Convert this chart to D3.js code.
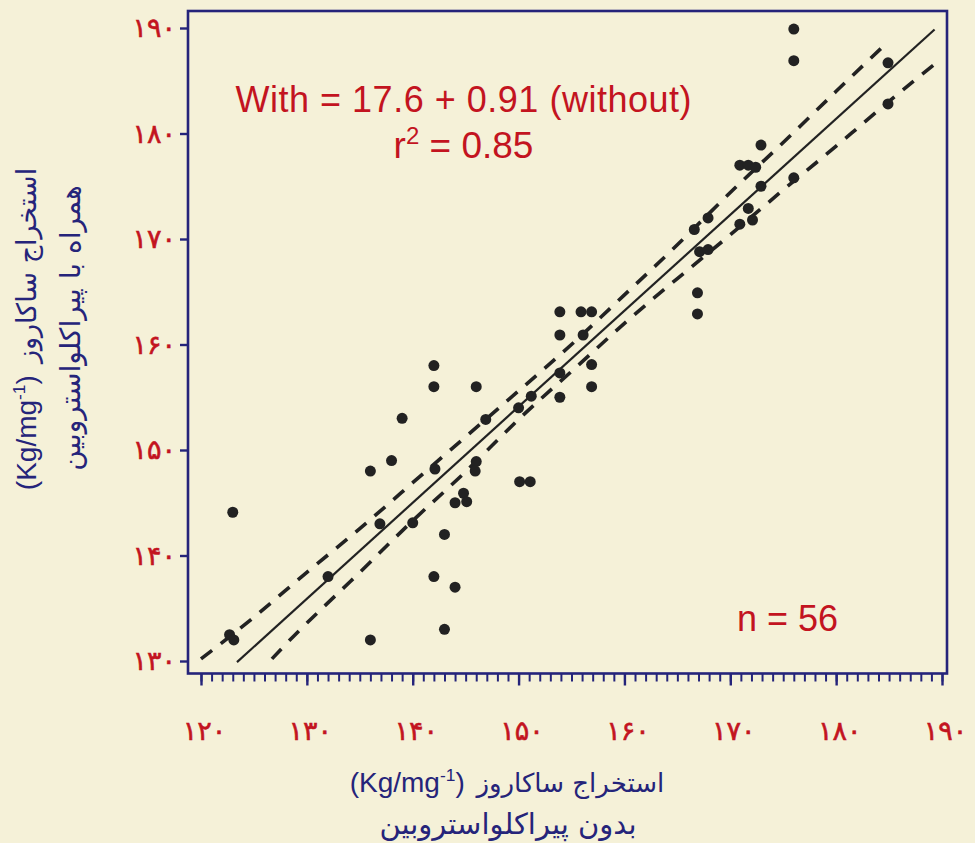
<!DOCTYPE html>
<html><head><meta charset="utf-8">
<script src="https://cdn.jsdelivr.net/npm/d3@7"></script>
<style>
html,body{margin:0;padding:0;background:#f5f1d8;}
svg{display:block;}
</style></head><body>
<svg id="chart" width="975" height="843"></svg>
<script>
// ---------- data ----------
const withoutValues = [123.0,122.7,123.1,136.0,132.0,136.0,138.0,139.0,136.9,140.0,
  142.0,142.0,142.1,143.0,142.0,144.0,143.0,146.0,146.9,146.0,
  145.9,144.8,144.0,145.1,150.1,151.1,150.0,151.2,153.9,155.9,
  156.9,153.9,156.1,156.9,156.9,153.9,153.9,166.9,166.9,166.6,
  167.9,167.1,167.9,171.7,170.9,172.1,170.9,171.7,172.4,172.9,
  172.9,176.0,176.0,176.0,184.9,184.9];
const withValues = [144.1,132.5,132.0,132.0,138.0,148.0,149.0,153.0,143.0,143.1,
  158.0,156.0,148.2,142.0,138.0,137.0,133.0,156.0,152.9,148.9,
  148.0,145.9,145.0,145.1,147.0,147.0,154.0,155.1,163.1,163.1,
  163.1,160.9,160.9,158.1,156.0,157.3,155.0,164.9,162.9,170.9,
  172.0,168.8,169.0,172.9,171.4,171.8,177.0,177.0,176.8,175.0,
  178.9,175.8,189.9,186.9,186.7,182.8];

const xTicks = [120,130,140,150,160,170,180,190];
const xTickLabels = ["۱۲۰","۱۳۰","۱۴۰","۱۵۰","۱۶۰","۱۷۰","۱۸۰","۱۹۰"];
const yTicks = [130,140,150,160,170,180,190];
const yTickLabels = ["۱۳۰","۱۴۰","۱۵۰","۱۶۰","۱۷۰","۱۸۰","۱۹۰"];

const intercept = 17.6, slope = 0.91;
const fitRange = [123.4, 189.3];

const upperBandX = [120,125,130,135,140,145,150,155,160,165,170,175,180,184.7];
const upperBandY = [130.2,134.15,138.4,142.55,146.9,151.25,155.6,160.0,164.7,169.45,174.4,179.15,184.0,188.5];
const lowerBandX = [126.7,130,135,140,145,150,155,160,165,170,175,180,185,189.6];
const lowerBandY = [130.2,133.6,138.4,143.3,147.95,152.9,157.45,162.0,166.25,170.4,174.65,178.8,183.05,186.8];

const equationText = "With = 17.6 + 0.91 (without)";
const r2Text = ["r", "2", " = 0.85"];
const nText = "n = 56";
const xTitle = ["استخراج ساکاروز", "بدون پیراکلواستروبین"];
const yTitle = ["استخراج ساکاروز", "همراه با پیراکلواستروبین"];

// ---------- styling ----------
const RED = "#c3141f", NAVY = "#25247a", INK = "#222222";
const svg = d3.select("#chart");
svg.append("rect").attr("width",975).attr("height",843).attr("fill","#f5f1d8");

const x = d3.scaleLinear().domain([120,190]).range([201,942]);
const y = d3.scaleLinear().domain([130,190]).range([661,28]);

const frame = {l:188, t:11, r:947, b:673.5};

// frame
svg.append("rect").attr("x",frame.l).attr("y",frame.t)
  .attr("width",frame.r-frame.l).attr("height",frame.b-frame.t)
  .attr("fill","none").attr("stroke",NAVY).attr("stroke-width",2.6);

// x axis minor + major ticks
const xMinor = d3.range(120,191,1);
const xAxisMinor = d3.axisBottom(x).tickValues(xMinor).tickSize(8).tickFormat("");
const gxm = svg.append("g").attr("transform",`translate(0,${frame.b})`).call(xAxisMinor);
gxm.select(".domain").remove();
gxm.selectAll("line").attr("stroke",NAVY).attr("stroke-width",2);

const xAxis = d3.axisBottom(x).tickValues(xTicks).tickSize(12)
  .tickFormat((d,i)=>xTickLabels[i]).tickPadding(35);
const gx = svg.append("g").attr("transform",`translate(0,${frame.b})`).call(xAxis);
gx.select(".domain").remove();
gx.selectAll("line").attr("stroke",NAVY).attr("stroke-width",2.4);
gx.selectAll("text").attr("fill",RED).attr("font-family","DejaVu Sans")
  .attr("font-size",27).attr("letter-spacing","6px")
  .attr("stroke",RED).attr("stroke-width",0.6)
  .attr("dx","3px").attr("dy","0.71em");

// y axis
const yAxis = d3.axisLeft(y).tickValues(yTicks).tickSize(8)
  .tickFormat((d,i)=>yTickLabels[i]).tickPadding(10);
const gy = svg.append("g").attr("transform",`translate(${frame.l},0)`).call(yAxis);
gy.select(".domain").remove();
gy.selectAll("line").attr("stroke",NAVY).attr("stroke-width",2.4);
gy.selectAll("text").attr("fill",RED).attr("font-family","DejaVu Sans")
  .attr("font-size",27).attr("letter-spacing","6px")
  .attr("stroke",RED).attr("stroke-width",0.6)
  .attr("dx","6px");

// confidence bands
const line = d3.line().x(d=>x(d[0])).y(d=>y(d[1])).curve(d3.curveNatural);
const upper = upperBandX.map((v,i)=>[v,upperBandY[i]]);
const lower = lowerBandX.map((v,i)=>[v,lowerBandY[i]]);
[upper,lower].forEach(b=>{
  svg.append("path").attr("d",line(b)).attr("fill","none").attr("stroke",INK)
    .attr("stroke-width",3.6).attr("stroke-dasharray","14,11");
});

// regression line
const fit = fitRange.map(v=>[v, intercept + slope*v]);
svg.append("path").attr("d",d3.line().x(d=>x(d[0])).y(d=>y(d[1]))(fit))
  .attr("fill","none").attr("stroke",INK).attr("stroke-width",2.2);

// points
svg.append("g").selectAll("circle").data(withoutValues).join("circle")
  .attr("cx",d=>x(d)).attr("cy",(d,i)=>y(withValues[i])).attr("r",5.5).attr("fill",INK);

// annotations
const ann = svg.append("g").attr("font-family","Liberation Sans, Arial, sans-serif").attr("fill",RED);
ann.append("text").attr("x",463.5).attr("y",112).attr("text-anchor","middle")
  .attr("font-size",36).attr("textLength",456).attr("lengthAdjust","spacing").text(equationText);
const r2 = ann.append("text").attr("x",463.5).attr("y",158).attr("text-anchor","middle").attr("font-size",37);
r2.append("tspan").text(r2Text[0]);
r2.append("tspan").attr("font-size",24).attr("dy",-14).text(r2Text[1]);
r2.append("tspan").attr("dy",14).text(r2Text[2]);
ann.append("text").attr("x",737).attr("y",631).attr("font-size",36).text(nText);

// axis titles
function unitTitle(g, persian, fsLat, fsPer){
  const lat = g.append("text").attr("font-family","Liberation Sans, Arial, sans-serif")
    .attr("font-size",fsLat).attr("fill",NAVY);
  lat.append("tspan").text("(Kg/mg");
  lat.append("tspan").attr("font-size",fsLat*0.62).attr("dy",-fsLat*0.38).text("-1");
  lat.append("tspan").attr("dy",fsLat*0.38).text(")");
  const per = g.append("text").attr("font-family","DejaVu Sans").attr("font-size",fsPer)
    .attr("fill",NAVY).text(persian);
  const w1 = lat.node().getComputedTextLength();
  const w2 = per.node().getComputedTextLength();
  const gap = fsPer*0.45;
  const tot = w1+gap+w2;
  lat.attr("x",-tot/2);
  per.attr("x",-tot/2 + w1 + gap);
}
const xt1 = svg.append("g").attr("transform","translate(507,792)");
unitTitle(xt1, xTitle[0], 28, 26);
svg.append("text").attr("x",508).attr("y",834).attr("text-anchor","middle")
  .attr("font-family","DejaVu Sans").attr("font-size",29).attr("fill",NAVY).text(xTitle[1]);

const yt1 = svg.append("g").attr("transform","translate(36,329) rotate(-90)");
unitTitle(yt1, yTitle[0], 28, 27);
svg.append("text").attr("transform","translate(80,328) rotate(-90)").attr("text-anchor","middle")
  .attr("font-family","DejaVu Sans").attr("font-size",28).attr("fill",NAVY).text(yTitle[1]);
</script>
</body></html>
